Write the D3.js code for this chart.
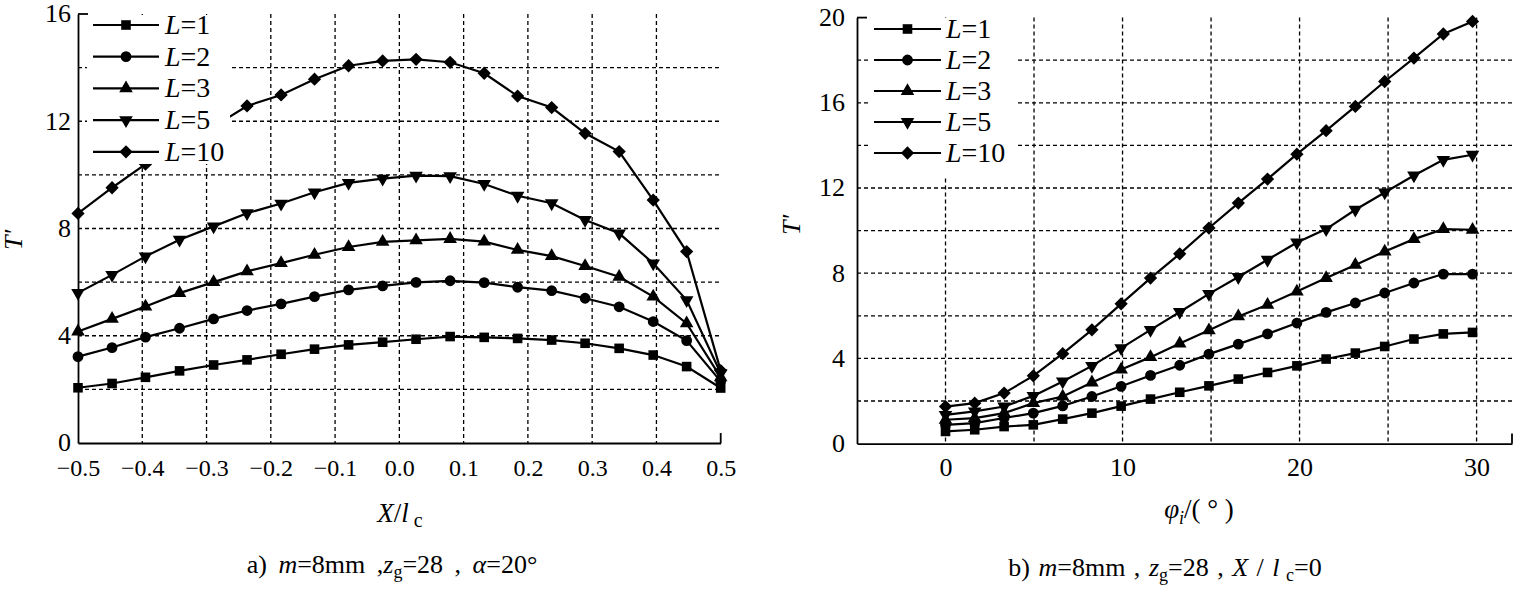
<!DOCTYPE html>
<html><head><meta charset="utf-8">
<script src="https://cdn.jsdelivr.net/npm/d3@7"></script>
<style>
body{margin:0;background:#fff}
svg{display:block}
text{font-family:"Liberation Serif","Times New Roman",serif;fill:#000}
</style>
</head><body>
<svg id="c" width="1513" height="593"></svg>
<script>
// ---------- data ----------
const legendValues = ["1", "2", "3", "5", "10"];

// panel a: T' vs X/lc
const xPos = [-0.5, -0.447, -0.395, -0.342, -0.289, -0.237, -0.184, -0.132, -0.079, -0.026,
              0.026, 0.079, 0.132, 0.184, 0.237, 0.289, 0.342, 0.395, 0.447, 0.5];
const aL1  = [2.06, 2.22, 2.45, 2.69, 2.91, 3.10, 3.31, 3.50, 3.66, 3.76, 3.87, 3.97, 3.94, 3.90, 3.84, 3.72, 3.53, 3.28, 2.85, 2.05];
const aL2  = [3.22, 3.56, 3.95, 4.28, 4.63, 4.94, 5.19, 5.46, 5.71, 5.86, 5.99, 6.05, 5.98, 5.81, 5.68, 5.40, 5.08, 4.53, 3.82, 2.30];
const aL3  = [4.16, 4.63, 5.09, 5.59, 6.00, 6.40, 6.71, 7.02, 7.31, 7.50, 7.56, 7.61, 7.51, 7.20, 6.97, 6.60, 6.20, 5.46, 4.46, 2.45];
const aL5  = [5.60, 6.27, 6.96, 7.58, 8.08, 8.57, 8.93, 9.35, 9.70, 9.86, 9.97, 9.95, 9.66, 9.22, 8.94, 8.32, 7.82, 6.70, 5.33, 2.60];
const aL10 = [8.56, 9.52, 10.40, 11.10, 11.80, 12.57, 12.98, 13.57, 14.07, 14.25, 14.31, 14.20, 13.79, 12.94, 12.51, 11.55, 10.87, 9.06, 7.14, 2.70];
const aXTicks = [-0.5, -0.4, -0.3, -0.2, -0.1, 0.0, 0.1, 0.2, 0.3, 0.4, 0.5];
const aYTicks = [0, 4, 8, 12, 16];

// panel b: T' vs phi_i
const phi  = [0, 1.65, 3.31, 4.96, 6.62, 8.27, 9.92, 11.58, 13.23, 14.88, 16.54, 18.19, 19.85, 21.5, 23.15, 24.81, 26.46, 28.12, 29.77];
const bL1  = [0.57, 0.65, 0.80, 0.88, 1.15, 1.43, 1.76, 2.09, 2.41, 2.71, 3.03, 3.34, 3.65, 3.97, 4.25, 4.56, 4.91, 5.15, 5.22];
const bL2  = [0.88, 0.96, 1.20, 1.43, 1.77, 2.21, 2.69, 3.20, 3.68, 4.20, 4.67, 5.15, 5.66, 6.16, 6.60, 7.07, 7.54, 7.96, 7.96];
const bL3  = [1.12, 1.20, 1.43, 1.90, 2.21, 2.87, 3.48, 4.06, 4.70, 5.32, 5.97, 6.52, 7.14, 7.77, 8.39, 9.02, 9.60, 10.07, 10.04];
const bL5  = [1.35, 1.51, 1.74, 2.24, 2.92, 3.65, 4.48, 5.34, 6.18, 7.03, 7.82, 8.63, 9.44, 10.07, 10.98, 11.79, 12.59, 13.32, 13.56];
const bL10 = [1.74, 1.90, 2.37, 3.18, 4.22, 5.34, 6.56, 7.77, 8.91, 10.12, 11.29, 12.42, 13.59, 14.69, 15.83, 17.00, 18.10, 19.23, 19.82];
const bXTicks = [0, 10, 20, 30];
const bYTicks = [0, 4, 8, 12, 16, 20];

// ---------- drawing ----------
const svg = d3.select("#c");
const markerKinds = ["square", "circle", "triangle", "down", "diamond"];

function markerPath(kind) {
  if (kind === "square") return d3.symbol(d3.symbolSquare, 92)();
  if (kind === "circle") return d3.symbol(d3.symbolCircle, 92)();
  if (kind === "triangle" || kind === "down") return d3.symbol(d3.symbolTriangle, 80)();
  return d3.symbol(d3.symbolSquare, 88)();
}
function markerRot(kind) {
  if (kind === "down") return 180;
  if (kind === "diamond") return 45;
  return 0;
}

function panel(o) {
  const x = d3.scaleLinear().domain(o.xDomain).range(o.xRange);
  const y = d3.scaleLinear().domain(o.yDomain).range(o.yRange);
  const g = svg.append("g");
  const x0 = o.xRange[0], x1 = o.xRange[1], y0 = o.yRange[0], y1 = o.yRange[1];

  // grid lines
  const grid = g.append("g").attr("stroke", "#000").attr("stroke-width", 1.3)
    .attr("stroke-dasharray", "4,3").attr("fill", "none");
  grid.selectAll("line.v").data(o.xGrid).join("line").attr("class", "v")
    .attr("x1", d => x(d)).attr("x2", d => x(d)).attr("y1", y1).attr("y2", y0);
  grid.selectAll("line.h").data(o.yGrid).join("line").attr("class", "h")
    .attr("y1", d => y(d)).attr("y2", d => y(d)).attr("x1", x0).attr("x2", x1);

  // series
  const lineGen = d3.line().x(d => x(d[0])).y(d => y(d[1]));
  o.series.forEach((vals, si) => {
    const pts = o.xs.map((xv, i) => [xv, vals[i]]);
    g.append("path").datum(pts).attr("d", lineGen)
      .attr("fill", "none").attr("stroke", "#000").attr("stroke-width", 2.2);
    g.selectAll(null).data(pts).join("path")
      .attr("d", markerPath(markerKinds[si]))
      .attr("transform", d => `translate(${x(d[0])},${y(d[1])}) rotate(${markerRot(markerKinds[si])})`)
      .attr("fill", "#000");
  });

  // axes
  const ay = g.append("g").attr("transform", `translate(${x0},0)`)
    .call(d3.axisLeft(y).tickValues(o.yTicks).tickSize(0).tickPadding(o.yPad).tickFormat(d3.format("d")));
  ay.select(".domain").attr("stroke", "#000").attr("stroke-width", 1.8);
  ay.selectAll("text").attr("font-size", 26).attr("font-family", "Liberation Serif").attr("dy", "0.3em");

  const ax = g.append("g").attr("transform", `translate(0,${y0})`)
    .call(d3.axisBottom(x).tickValues(o.xTicks).tickSize(0).tickPadding(o.xPad).tickFormat(o.xFmt));
  ax.select(".domain").attr("stroke", "#000").attr("stroke-width", 1.8);
  ax.selectAll("text").attr("font-size", o.xFont).attr("font-family", "Liberation Serif");

  // end caps
  g.append("line").attr("x1", x0).attr("x2", x0 + 10).attr("y1", y1).attr("y2", y1)
    .attr("stroke", "#000").attr("stroke-width", 1.8);
  g.append("line").attr("x1", x1).attr("x2", x1).attr("y1", y0).attr("y2", y0 - 10)
    .attr("stroke", "#000").attr("stroke-width", 1.8);

  // legend
  const lg = g.append("g");
  lg.append("rect").attr("x", o.leg.x).attr("y", o.leg.y).attr("width", o.leg.w).attr("height", o.leg.h)
    .attr("fill", "#fff");
  legendValues.forEach((lv, i) => {
    const ly = o.leg.row0 + i * o.leg.dy;
    lg.append("line").attr("x1", o.leg.lx0).attr("x2", o.leg.lx1).attr("y1", ly).attr("y2", ly)
      .attr("stroke", "#000").attr("stroke-width", 2.2);
    lg.append("path").attr("d", markerPath(markerKinds[i]))
      .attr("transform", `translate(${(o.leg.lx0 + o.leg.lx1) / 2},${ly}) rotate(${markerRot(markerKinds[i])})`)
      .attr("fill", "#000");
    const t = lg.append("text").attr("x", o.leg.tx).attr("y", ly + 9).attr("font-size", 28);
    t.append("tspan").attr("font-style", "italic").text("L");
    t.append("tspan").text("=" + lv);
  });
  return {x, y};
}

const fmtA = d => (d < 0 ? "\u2212" : "") + d3.format(".1f")(Math.abs(d));

panel({
  xDomain: [-0.5, 0.5], xRange: [78, 720.7],
  yDomain: [0, 16], yRange: [443, 14],
  xGrid: [-0.4, -0.3, -0.2, -0.1, 0, 0.1, 0.2, 0.3, 0.4],
  yGrid: [2, 4, 6, 8, 10, 12, 14],
  xTicks: aXTicks, yTicks: aYTicks, xFmt: fmtA, yPad: 7, xPad: 16, xFont: 24,
  xs: xPos, series: [aL1, aL2, aL3, aL5, aL10],
  leg: {x: 87, y: 15, w: 143, h: 149, row0: 25, dy: 31.7, lx0: 93, lx1: 159, tx: 165}
});

panel({
  xDomain: [-5, 32], xRange: [857, 1512],
  yDomain: [0, 20], yRange: [443.6, 17.6],
  xGrid: [0, 5, 10, 15, 20, 25, 30],
  yGrid: [2, 4, 6, 8, 10, 12, 14, 16, 18],
  xTicks: bXTicks, yTicks: bYTicks, xFmt: d3.format("d"), yPad: 12, xPad: 14, xFont: 26,
  xs: phi, series: [bL1, bL2, bL3, bL5, bL10],
  leg: {x: 869, y: 18, w: 146, h: 160, row0: 29, dy: 31, lx0: 874, lx1: 941, tx: 946}
});

// axis titles
function yTitle(cx, cy) {
  const t = svg.append("text").attr("transform", `translate(${cx},${cy}) rotate(-90)`)
    .attr("text-anchor", "middle").attr("font-size", 26);
  t.append("tspan").attr("font-style", "italic").text("T");
  t.append("tspan").attr("font-style", "italic").text("'");
}
yTitle(22, 240);
yTitle(800, 225);

const xt = svg.append("text").attr("x", 400).attr("y", 522).attr("text-anchor", "middle").attr("font-size", 27);
xt.append("tspan").attr("font-style", "italic").text("X");
xt.append("tspan").text("/");
xt.append("tspan").attr("font-style", "italic").text("l");
xt.append("tspan").attr("font-size", 20).attr("dy", 5).text(" c");

const pt = svg.append("text").attr("x", 1199).attr("y", 518).attr("text-anchor", "middle").attr("font-size", 27);
pt.append("tspan").attr("font-style", "italic").text("\u03C6");
pt.append("tspan").attr("font-style", "italic").attr("font-size", 18).attr("dy", 6).text("i");
pt.append("tspan").attr("dy", -6).text("/( \u00B0 )");

// captions
const ca = svg.append("text").attr("x", 392).attr("y", 573).attr("text-anchor", "middle")
  .attr("font-size", 26).attr("word-spacing", 5);
ca.append("tspan").text("a) ");
ca.append("tspan").attr("font-style", "italic").text("m");
ca.append("tspan").text("=8mm ,");
ca.append("tspan").attr("font-style", "italic").text("z");
ca.append("tspan").attr("font-size", 18).attr("dy", 5).text("g");
ca.append("tspan").attr("dy", -5).text("=28 ,  ");
ca.append("tspan").attr("font-style", "italic").text("\u03B1");
ca.append("tspan").text("=20\u00B0");

const cb = svg.append("text").attr("x", 1165).attr("y", 576).attr("text-anchor", "middle")
  .attr("font-size", 26).attr("word-spacing", 2);
cb.append("tspan").text("b) ");
cb.append("tspan").attr("font-style", "italic").text("m");
cb.append("tspan").text("=8mm , ");
cb.append("tspan").attr("font-style", "italic").text("z");
cb.append("tspan").attr("font-size", 18).attr("dy", 5).text("g");
cb.append("tspan").attr("dy", -5).text("=28 , ");
cb.append("tspan").attr("font-style", "italic").text("X");
cb.append("tspan").text(" / ");
cb.append("tspan").attr("font-style", "italic").text("l");
cb.append("tspan").attr("font-size", 18).attr("dy", 5).text(" c");
cb.append("tspan").attr("dy", -5).text("=0");
</script>
</body></html>
